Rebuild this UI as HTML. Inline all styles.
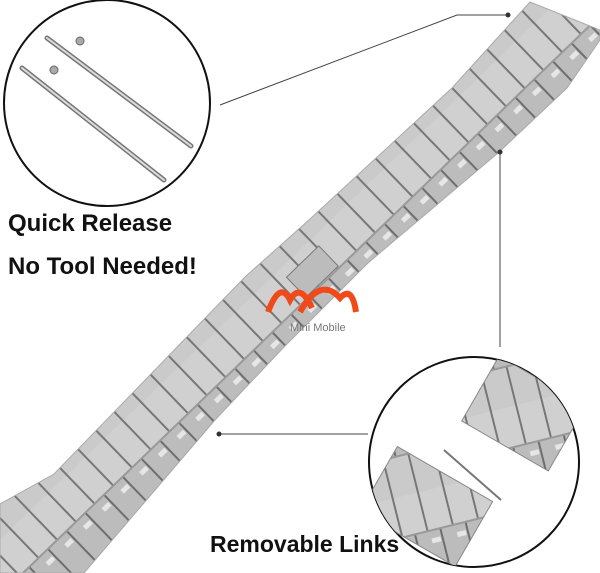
<!DOCTYPE html>
<html><head><meta charset="utf-8"><style>
html,body{margin:0;padding:0;background:#fff;}
.t{position:absolute;font-family:"Liberation Sans",sans-serif;font-weight:bold;color:#111;white-space:nowrap;}
</style></head><body>
<div style="position:relative;width:600px;height:573px;overflow:hidden;">
<svg width="600" height="573" style="position:absolute;left:0;top:0">
<defs>
<pattern id="p" width="26" height="130" patternUnits="userSpaceOnUse" patternTransform="rotate(-44 300 286)">
<rect width="26" height="130" fill="#c6c6c6"/>
<rect x="0" y="0" width="26" height="40" fill="#d0d0d0"/>
<rect x="0" y="40" width="26" height="50" fill="#bcbcbc"/>
<rect x="0" y="90" width="26" height="40" fill="#cacaca"/>
<rect x="0" y="0" width="2" height="40" fill="#777"/>
<rect x="13" y="40" width="2" height="50" fill="#6e6e6e"/>
<rect x="0" y="90" width="2" height="40" fill="#777"/>
<rect x="0" y="39" width="26" height="2" fill="#999"/>
<rect x="0" y="89" width="26" height="2" fill="#999"/>
<rect x="3" y="48" width="9" height="5" fill="#e6e6e6"/>
</pattern>
<clipPath id="c2"><circle cx="474" cy="462" r="105"/></clipPath>
</defs>
<polygon points="530,2 600,30 600,40 567,88 498,153 368,263 284,347 215,420 84,573 0,573 0,504 54,474 245,277 310,219 452,88" fill="url(#p)" stroke="#aaa" stroke-width="1"/>
<rect x="290" y="258" width="45" height="28" fill="#bcbcbc" transform="rotate(-44 312 272)" stroke="#777"/>
<path d="M268,312 Q280,280 290,300 Q300,282 312,308 M300,312 Q320,276 340,298 Q352,285 356,312" fill="none" stroke="#f04a1a" stroke-width="6"/>
<text x="290" y="331" font-family="Liberation Sans,sans-serif" font-size="11" fill="#777">Mini Mobile</text>
<circle cx="107" cy="103" r="103" fill="#fff" stroke="#111" stroke-width="2"/>
<g stroke-linecap="round">
<line x1="47" y1="38" x2="191" y2="146" stroke="#777" stroke-width="5"/>
<line x1="47" y1="38" x2="191" y2="146" stroke="#ddd" stroke-width="2"/>
<line x1="22" y1="68" x2="164" y2="180" stroke="#777" stroke-width="5"/>
<line x1="22" y1="68" x2="164" y2="180" stroke="#ddd" stroke-width="2"/>
<circle cx="80" cy="41" r="4" fill="#aaa" stroke="#666"/>
<circle cx="54" cy="70" r="4" fill="#aaa" stroke="#666"/>
</g>
<circle cx="474" cy="462" r="105" fill="#fff" stroke="#111" stroke-width="2"/>
<g clip-path="url(#c2)">
<g transform="rotate(30 520 420)"><rect x="470" y="375" width="100" height="75" fill="url(#p)" stroke="#888"/></g>
<g transform="rotate(30 430 500)"><rect x="375" y="470" width="110" height="75" fill="url(#p)" stroke="#888"/></g>
<line x1="444" y1="450" x2="501" y2="500" stroke="#777" stroke-width="2"/>
</g>
<g stroke="#444" stroke-width="1" fill="none">
<polyline points="220,105 457,15 508,15"/>
<line x1="500" y1="152" x2="500" y2="347"/>
<line x1="219" y1="434" x2="368" y2="434"/>
</g>
<circle cx="508" cy="15" r="2.5" fill="#333"/>
<circle cx="500" cy="152" r="2.5" fill="#333"/>
<circle cx="219" cy="434" r="2.5" fill="#333"/>
</svg>
<div class="t" style="left:8px;top:210px;font-size:24px;">Quick Release</div>
<div class="t" style="left:8px;top:253px;font-size:24px;">No Tool Needed!</div>
<div class="t" style="left:210px;top:531px;font-size:23px;">Removable Links</div>
</div>
</body></html>
